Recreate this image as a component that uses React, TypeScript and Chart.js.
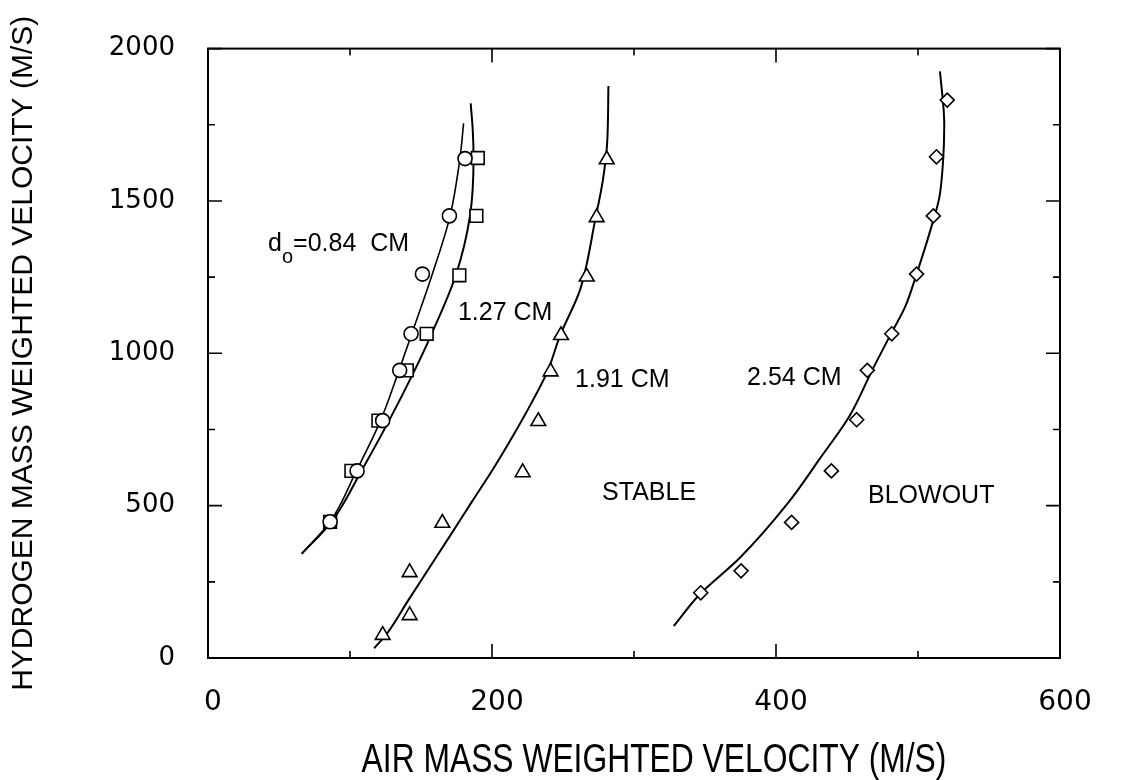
import React, { useEffect, useRef } from 'react';
import { Chart, registerables } from 'chart.js';
Chart.register(...registerables);

// ---- axis ticks ----
const xTickValues = [0, 200, 400, 600];
const xMinorTicks = [0, 100, 200, 300, 400, 500, 600];
const yTickValues = [0, 500, 1000, 1500, 2000];
const yMinorTicks = [0, 250, 500, 750, 1000, 1250, 1500, 1750, 2000];

const xTitle = 'AIR MASS WEIGHTED VELOCITY (M/S)';
const yTitle = 'HYDROGEN MASS WEIGHTED VELOCITY (M/S)';

// ---- measured points ----
// d0 = 0.84 cm (circles)
const circleX = [181, 170, 151, 143, 135, 123, 105, 86];
const circleY = [1639, 1451, 1260, 1064, 944, 779, 614, 447];
// d0 = 1.27 cm (squares)
const squareX = [190, 189, 177, 154, 140, 120, 101, 86];
const squareY = [1641, 1451, 1256, 1064, 944, 779, 614, 447];
// d0 = 1.91 cm (triangles)
const triX = [123, 142, 142, 165, 221.6, 232.6, 241.3, 248.6, 266.7, 273.7, 280.8];
const triY = [75, 140, 281, 443, 609, 777, 940, 1059, 1251, 1446, 1636];
// d0 = 2.54 cm (diamonds)
const diaX = [347, 375.4, 411, 439, 456.8, 464.3, 481.5, 499, 510.8, 513, 520.6];
const diaY = [214, 286, 445, 614, 782, 944, 1064, 1260, 1451, 1645, 1831];

// ---- fitted curves ----
const fit084X = [66, 86, 104.5, 121.5, 134.5, 143.5, 158, 170.5, 177.5, 180];
const fit084Y = [342, 447, 614, 779, 944, 1064, 1260, 1451, 1642, 1755];
const fit127X = [66, 87, 108, 127.5, 145.5, 157.5, 174.5, 184.5, 187, 186.5, 185];
const fit127Y = [342, 447, 614, 779, 944, 1064, 1256, 1451, 1641, 1728, 1820];
const fit191X = [117, 126, 141, 156, 171, 186, 201, 215, 228, 239, 248, 262, 273, 278, 281, 282];
const fit191Y = [32, 80, 189, 297, 405, 514, 622, 731, 839, 940, 1059, 1208, 1446, 1566, 1684, 1877];
const fit254X = [328, 346.5, 374.6, 407.5, 431, 452, 468, 481, 491, 499, 510, 515, 517.5, 518.5, 515.5];
const fit254Y = [105, 210, 329, 503, 655, 796, 947, 1064, 1153, 1260, 1424, 1511, 1620, 1750, 1925];

// ---- text annotations (data coords of left edge / vertical middle) ----
const labelTexts = ['1.27 CM', '1.91 CM', '2.54 CM', 'STABLE', 'BLOWOUT'];
const labelX = [176, 258.5, 379.6, 277.5, 464.8];
const labelY = [1132, 911, 917, 540, 530];
const d0LabelX = 42.3;
const d0LabelY = 1359;
const d0Rest = '=0.84  CM';

const pts = (xs: number[], ys: number[]) => xs.map((x, i) => ({ x, y: ys[i] }));

const framePlugin = {
  id: 'frameTicks',
  afterDatasetsDraw(chart: any) {
    const { ctx, chartArea: a, scales } = chart;
    const xs = scales.x, ys = scales.y;
    ctx.save();
    ctx.strokeStyle = '#000';
    ctx.lineWidth = 2;
    ctx.strokeRect(a.left, a.top, a.right - a.left, a.bottom - a.top);
    ctx.lineWidth = 1.6;
    ctx.beginPath();
    xMinorTicks.forEach((v) => {
      const len = xTickValues.includes(v) ? 14 : 7;
      const px = xs.getPixelForValue(v);
      ctx.moveTo(px, a.bottom); ctx.lineTo(px, a.bottom - len);
      ctx.moveTo(px, a.top); ctx.lineTo(px, a.top + len);
    });
    yMinorTicks.forEach((v) => {
      const len = yTickValues.includes(v) ? 14 : 7;
      const py = ys.getPixelForValue(v);
      ctx.moveTo(a.left, py); ctx.lineTo(a.left + len, py);
      ctx.moveTo(a.right, py); ctx.lineTo(a.right - len, py);
    });
    ctx.stroke();
    ctx.restore();
  },
  afterDraw(chart: any) {
    const { ctx, scales } = chart;
    const xs = scales.x, ys = scales.y;
    ctx.save();
    ctx.fillStyle = '#000';
    ctx.textBaseline = 'middle';
    ctx.textAlign = 'left';
    ctx.font = '25px "Liberation Sans", Arial, sans-serif';
    labelTexts.forEach((t, i) => {
      ctx.fillText(t, xs.getPixelForValue(labelX[i]), ys.getPixelForValue(labelY[i]));
    });
    // d with subscript o
    let px = xs.getPixelForValue(d0LabelX);
    const py = ys.getPixelForValue(d0LabelY);
    ctx.fillText('d', px, py);
    px += ctx.measureText('d').width;
    ctx.font = '20px "Liberation Sans", Arial, sans-serif';
    ctx.fillText('o', px, py + 14);
    px += ctx.measureText('o').width;
    ctx.font = '25px "Liberation Sans", Arial, sans-serif';
    ctx.fillText(d0Rest, px, py);
    // x-axis title (condensed)
    ctx.font = '40px "Liberation Sans", Arial, sans-serif';
    ctx.textAlign = 'center';
    ctx.translate(654, 761);
    ctx.scale(0.795, 1);
    ctx.fillText(xTitle, 0, 0);
    ctx.restore();
  },
};

export default function App() {
  const ref = useRef<HTMLCanvasElement>(null);
  useEffect(() => {
    if (!ref.current) return;
    const markerBase = {
      showLine: false,
      borderColor: '#000',
      backgroundColor: '#fff',
      pointBorderColor: '#000',
      pointBackgroundColor: '#fff',
      pointBorderWidth: 1.6,
    };
    const lineBase = {
      showLine: true,
      pointRadius: 0,
      borderColor: '#000',
      borderWidth: 2,
      indexAxis: 'y',
      cubicInterpolationMode: 'monotone',
      fill: false,
    };
    const chart = new Chart(ref.current, {
      type: 'scatter',
      data: {
        datasets: [
          { ...markerBase, label: '0.84 CM', data: pts(circleX, circleY), pointStyle: 'circle', pointRadius: 7 },
          { ...markerBase, label: '1.27 CM', data: pts(squareX, squareY), pointStyle: 'rect', pointRadius: 9 },
          { ...markerBase, label: '1.91 CM', data: pts(triX, triY), pointStyle: 'triangle', pointRadius: 8.5 },
          { ...markerBase, label: '2.54 CM', data: pts(diaX, diaY), pointStyle: 'rectRot', pointRadius: 7 },
          { ...lineBase, label: 'fit 0.84', data: pts(fit084X, fit084Y), borderWidth: 1.6 },
          { ...lineBase, label: 'fit 1.27', data: pts(fit127X, fit127Y) },
          { ...lineBase, label: 'fit 1.91', data: pts(fit191X, fit191Y) },
          { ...lineBase, label: 'fit 2.54', data: pts(fit254X, fit254Y) },
        ] as any,
      },
      options: {
        responsive: false,
        animation: false,
        devicePixelRatio: 1,
        layout: { padding: { top: 43, right: 72, left: 0, bottom: 0 } },
        plugins: { legend: { display: false }, tooltip: { enabled: false } },
        scales: {
          x: {
            type: 'linear',
            min: 0,
            max: 600,
            afterBuildTicks: (s: any) => { s.ticks = xTickValues.map((v) => ({ value: v })); },
            afterFit: (s: any) => { s.height = 122; },
            grid: { display: false, drawTicks: false },
            border: { display: false },
            ticks: {
              color: '#000',
              padding: 28,
              labelOffset: 5,
              maxRotation: 0,
              callback: (v: any) => String(v),
              font: { family: '"DejaVu Sans", sans-serif', size: 28 },
            },
            title: { display: false, text: xTitle },
          },
          y: {
            type: 'linear',
            min: 0,
            max: 2000,
            afterBuildTicks: (s: any) => { s.ticks = yTickValues.map((v) => ({ value: v })); },
            afterFit: (s: any) => { s.width = 208; },
            grid: { display: false, drawTicks: false },
            border: { display: false },
            ticks: {
              color: '#000',
              padding: 33,
              callback: (v: any) => String(v),
              font: { family: '"DejaVu Sans", sans-serif', size: 26 },
            },
            title: {
              display: true,
              text: yTitle,
              color: '#000',
              padding: { top: 6, bottom: 0 },
              font: { family: '"Liberation Sans", Arial, sans-serif', size: 30, lineHeight: 1.2 },
            },
          },
        },
      },
      plugins: [framePlugin],
    });
    return () => chart.destroy();
  }, []);
  return (
    <div style={{ position: 'fixed', left: 0, top: 0, width: 1132, height: 780, background: '#fff' }}>
      <canvas ref={ref} width={1132} height={780} style={{ width: 1132, height: 780 }} />
    </div>
  );
}
